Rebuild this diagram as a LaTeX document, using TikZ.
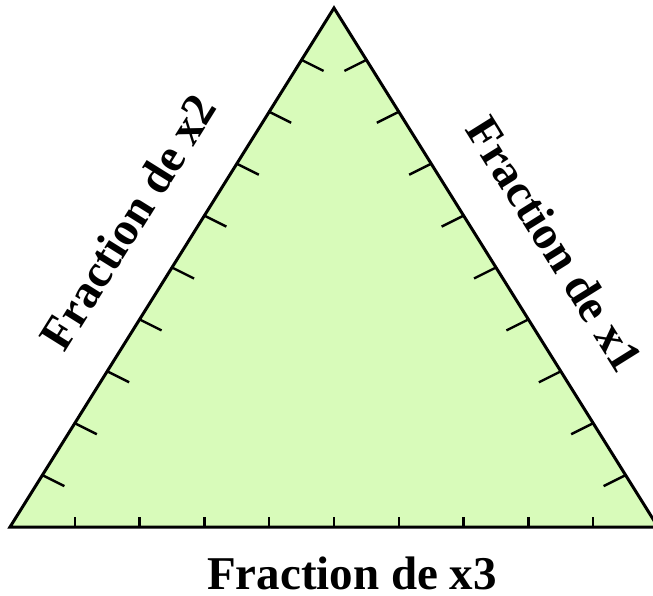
\documentclass[tikz,border=0pt]{standalone}
\usepackage{fontspec}
\setmainfont{Liberation Serif}
\usepackage{xcolor}
\usetikzlibrary{calc}
\definecolor{TernFill}{RGB}{216,251,186}

\begin{document}
\begin{tikzpicture}[x=1pt, y=-1pt,
  side/.style={draw=black, line width=3pt, line join=miter, fill=TernFill},
  tickmark/.style={draw=black, line width=2.4pt},
  axislabel/.style={font=\fontsize{47}{50}\selectfont\bfseries, inner sep=0pt},
]
\useasboundingbox (0,0) rectangle (653,595);
%% Corners
\coordinate (left) at (10,527);
\coordinate (right) at (658,527);
\coordinate (top) at (334,8);
%% Triangle
\path[side] (left) -- (right) -- (top) -- cycle;
%% Ticks
\foreach \k in {1,...,9} {
  \coordinate (b\k) at ($(left)!\k/10!(right)$);
  \coordinate (l\k) at ($(left)!\k/10!(top)$);
  \coordinate (r\k) at ($(right)!\k/10!(top)$);
  \draw[tickmark] (b\k) -- +(0,-10);
  \draw[tickmark] (l\k) -- +(22,11);
  \draw[tickmark] (r\k) -- +(-22,11);
}
%% Labels
\node[axislabel] (x3) at (352,573) {Fraction de x3};
\node[axislabel, rotate=58] (x2) at (128,222) {Fraction de x2};
\node[axislabel, rotate=-58] (x1) at (555,244) {Fraction de x1};
\end{tikzpicture}
\end{document}
